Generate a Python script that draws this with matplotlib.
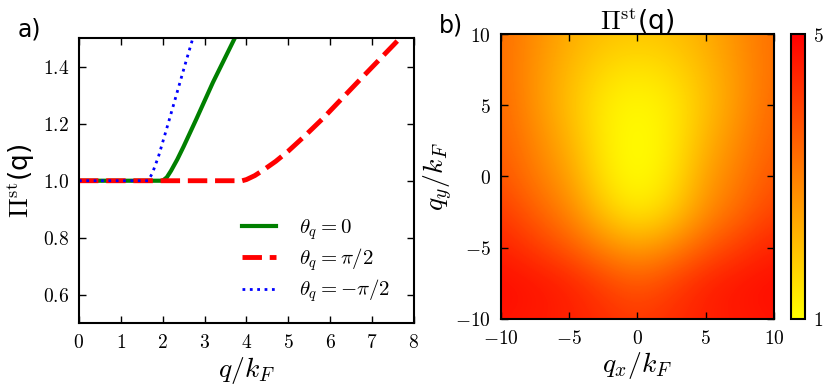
import numpy as np
import matplotlib
matplotlib.use('Agg')
import matplotlib.pyplot as plt
from matplotlib.ticker import FuncFormatter

plt.rcParams['mathtext.fontset'] = 'cm'
plt.rcParams['font.family'] = 'DejaVu Sans'

# panel a) curves
q_green = [0, 2.0, 2.1, 2.2, 2.35, 2.5, 2.8, 3.2, 3.72]
pi_green = [1.0, 1.0, 1.012, 1.035, 1.075, 1.12, 1.215, 1.345, 1.5]
q_red = [0, 3.9, 4.0, 4.2, 4.4, 4.7, 5.0, 5.4, 5.83, 6.63, 7.51, 7.62]
pi_red = [1.0, 1.0, 1.004, 1.018, 1.037, 1.068, 1.104, 1.158, 1.219, 1.342, 1.476, 1.493]
q_blue = [0, 1.65, 1.75, 1.9, 2.13, 2.52, 2.72]
pi_blue = [1.0, 1.0, 1.025, 1.085, 1.2, 1.4, 1.5]
labels = [r'$\theta_q=0$', r'$\theta_q=\pi/2$', r'$\theta_q=-\pi/2$']

# panel b) coarse grid of Pi^st values (rows from qy=10 down to qy=-10)
grid_q = [-10, -7.5, -5, -2.5, 0, 2.5, 5, 7.5, 10]
pi_map = np.array([
    [3.3, 2.8, 2.3, 2.0, 1.9, 2.0, 2.3, 2.8, 3.3],
    [3.3, 2.7, 2.1, 1.6, 1.4, 1.6, 2.1, 2.7, 3.3],
    [3.4, 2.7, 2.0, 1.3, 1.1, 1.3, 2.0, 2.7, 3.4],
    [3.5, 2.9, 2.2, 1.3, 1.0, 1.3, 2.2, 2.9, 3.5],
    [3.7, 3.1, 2.5, 1.4, 1.0, 1.4, 2.5, 3.1, 3.7],
    [4.1, 3.5, 2.9, 1.9, 1.3, 1.8, 2.8, 3.4, 4.0],
    [4.5, 4.1, 3.6, 2.9, 2.5, 2.9, 3.6, 4.1, 4.5],
    [4.8, 4.7, 4.5, 4.0, 3.6, 4.0, 4.5, 4.7, 4.8],
    [4.7, 4.6, 4.5, 4.3, 4.1, 4.3, 4.5, 4.6, 4.7],
])

fig = plt.figure(figsize=(8.31, 3.87), dpi=100)
ax1 = fig.add_axes([0.095, 0.165, 0.403, 0.736])
ax2 = fig.add_axes([0.6025, 0.176, 0.329, 0.736])
cax = fig.add_axes([0.9515, 0.176, 0.0172, 0.736])

mfmt = FuncFormatter(lambda v, p: '$%g$' % v)
mfmt1 = FuncFormatter(lambda v, p: '$%.1f$' % v)

ax1.plot(q_green, pi_green, color='green', lw=3, label=labels[0])
ax1.plot(q_red, pi_red, color='red', lw=3.5, dashes=(4, 1.6), label=labels[1])
ax1.plot(q_blue, pi_blue, color='blue', lw=2, ls=':', label=labels[2])
ax1.set_xlim(0, 8)
ax1.set_ylim(0.5, 1.5)
ax1.set_xticks(range(9))
ax1.set_yticks([0.6, 0.8, 1.0, 1.2, 1.4])
ax1.xaxis.set_major_formatter(mfmt)
ax1.yaxis.set_major_formatter(mfmt1)
ax1.set_xlabel(r'$q/k_F$', fontsize=20, labelpad=2)
ax1.set_ylabel(r'$\Pi^{\rm st}$(q)', fontsize=19, labelpad=4)
ax1.legend(loc='lower right', bbox_to_anchor=(0.985, 0.0), frameon=False,
           fontsize=15, handlelength=1.65, labelspacing=0.22, handletextpad=1.1)
fig.text(0.021, 0.905, 'a)', fontsize=17)

im = ax2.imshow(pi_map, cmap='autumn_r', vmin=1, vmax=5, interpolation='bicubic',
                extent=[grid_q[0] - 1.25, grid_q[-1] + 1.25, grid_q[0] - 1.25, grid_q[-1] + 1.25],
                aspect='auto')
ax2.set_xlim(-10, 10)
ax2.set_ylim(-10, 10)
ax2.set_xticks([-10, -5, 0, 5, 10])
ax2.set_yticks([-10, -5, 0, 5, 10])
ax2.xaxis.set_major_formatter(mfmt)
ax2.yaxis.set_major_formatter(mfmt)
ax2.set_xlabel(r'$q_x/k_F$', fontsize=20, labelpad=2)
ax2.set_ylabel(r'$q_y/k_F$', fontsize=20, labelpad=0)
ax2.set_title(r'$\Pi^{\rm st}$(q)', fontsize=19, pad=3)
fig.text(0.528, 0.915, 'b)', fontsize=17)

cb = fig.colorbar(im, cax=cax, ticks=[1, 5])
cb.ax.yaxis.set_major_formatter(mfmt)
cb.ax.tick_params(length=0, labelsize=14, pad=6)
cb.outline.set_linewidth(1.5)

for ax in (ax1, ax2):
    ax.tick_params(direction='in', top=True, right=True, length=5, width=1,
                   labelsize=14, pad=7)
    for s in ax.spines.values():
        s.set_linewidth(1.5)

fig.savefig('out.png', dpi=100, facecolor='white')
